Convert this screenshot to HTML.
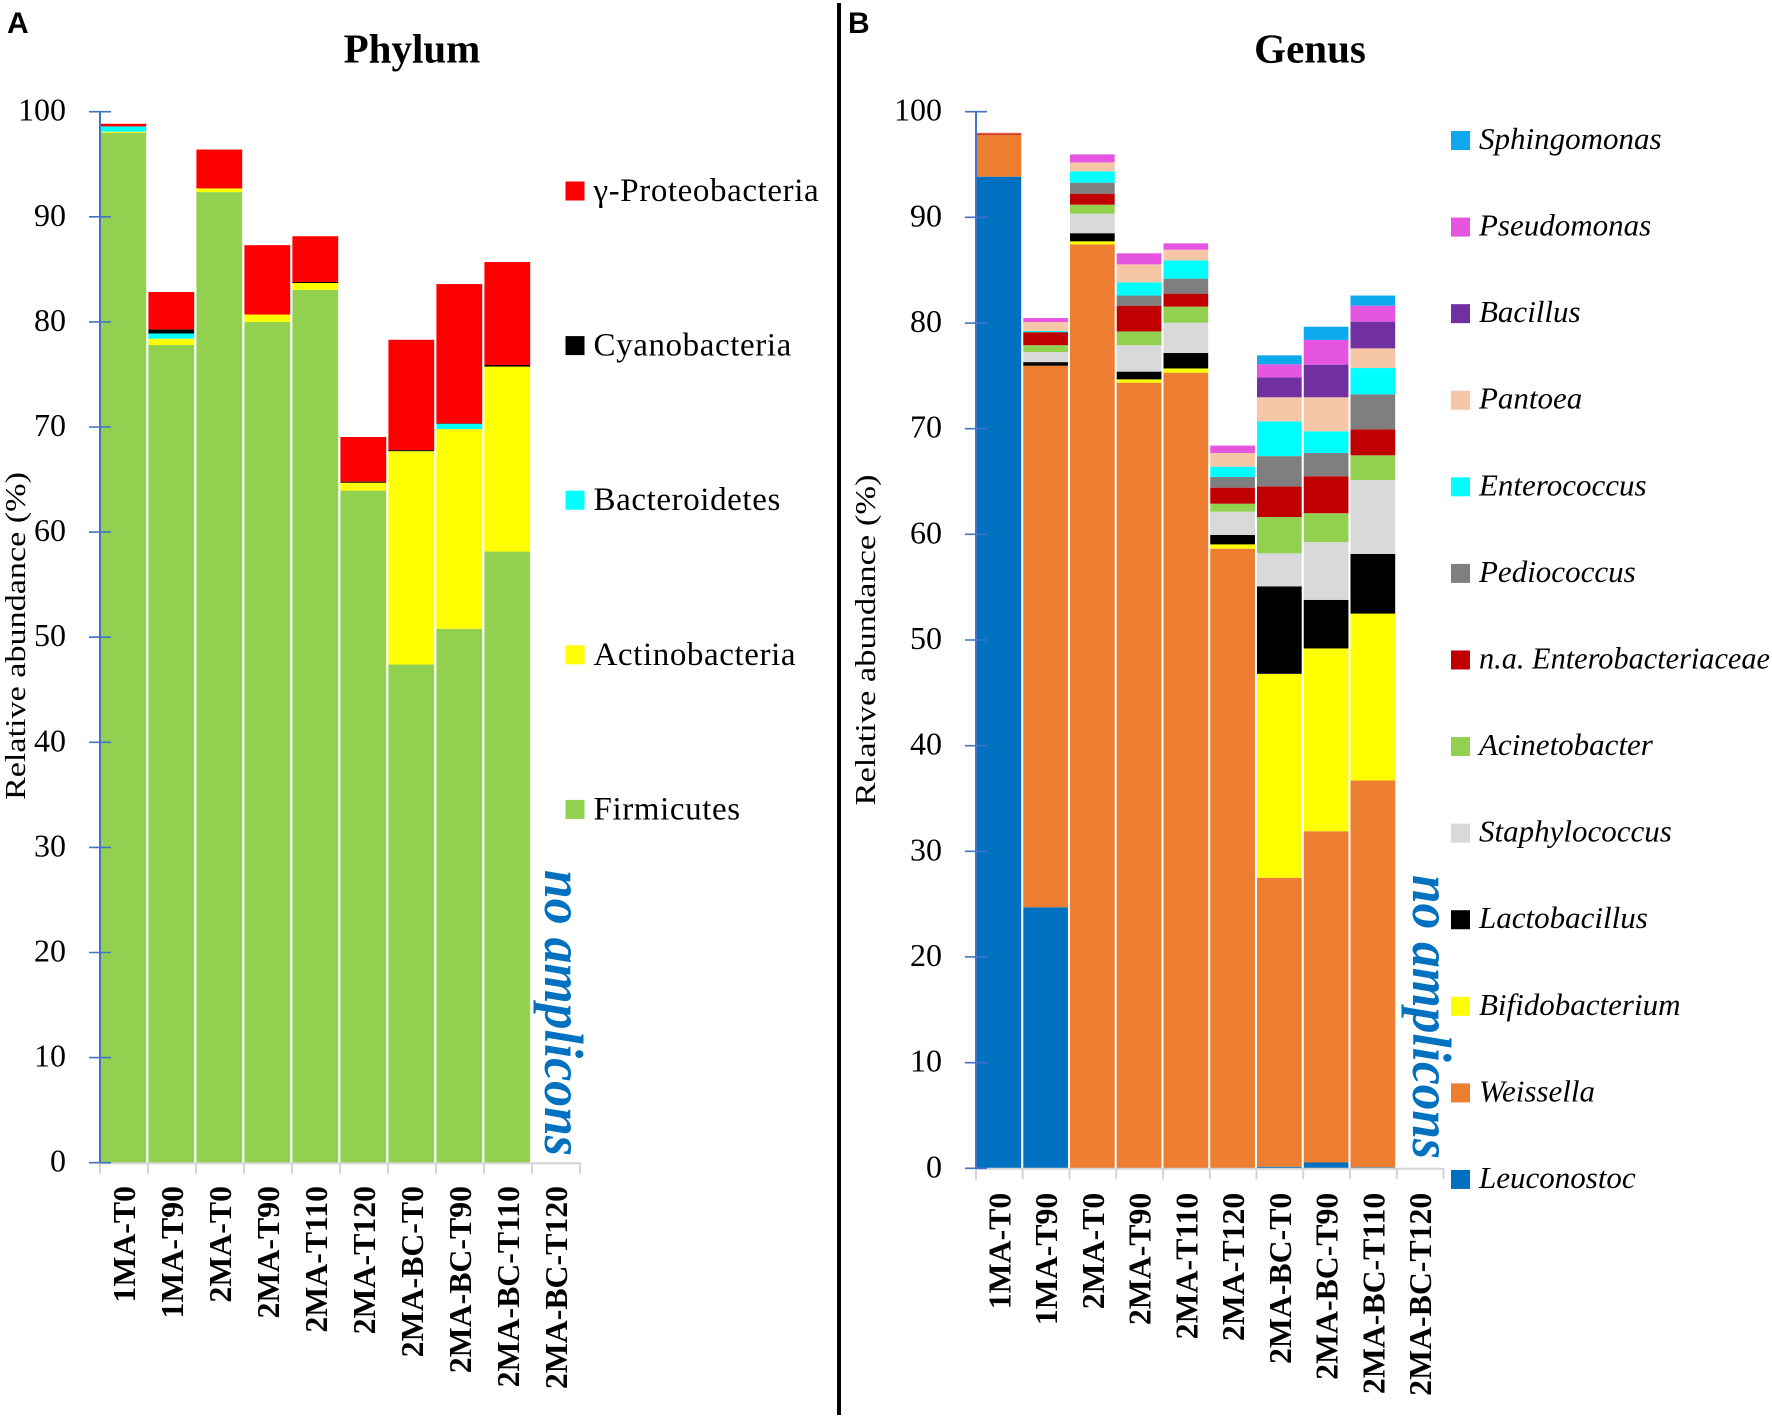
<!DOCTYPE html>
<html lang="en">
<head>
<meta charset="utf-8">
<title>Relative abundance by phylum and genus</title>
<style>
html,body{margin:0;padding:0;background:#fff;}
svg{display:block;}
text{font-family:"Liberation Serif",serif;fill:#000;}
.tick-label{font-size:32px;text-anchor:end;}
.cat-label{font-size:31.8px;font-weight:bold;text-anchor:end;}
.axis-title{font-size:29px;text-anchor:middle;}
.panel-title{font-size:41px;font-weight:bold;text-anchor:middle;}
.panel-letter{font-family:"Liberation Sans",sans-serif;font-size:30px;font-weight:bold;}
.no-amp{font-size:55px;font-weight:bold;font-style:italic;fill:#0070c0;}
.leg-a{font-size:33px;letter-spacing:.6px;}
.leg-b{font-size:31px;font-style:italic;}
</style>
</head>
<body>
<svg id="figure" xmlns="http://www.w3.org/2000/svg" width="1772" height="1421" viewBox="0 0 1772 1421">
  <rect x="0" y="0" width="1772" height="1421" fill="#fff"/>
  <text class="panel-letter" x="7" y="33">A</text>
  <text class="panel-letter" x="848" y="33">B</text>
  <text class="panel-title" x="412" y="62.5">Phylum</text>
  <text class="panel-title" x="1310" y="62.5">Genus</text>
  <rect x="837" y="3" width="4" height="1412" fill="#000"/>
  <text class="axis-title" transform="translate(25,636) rotate(-90)" textLength="328" lengthAdjust="spacingAndGlyphs">Relative abundance (%)</text>
  <text class="axis-title" transform="translate(875,640) rotate(-90)" textLength="331" lengthAdjust="spacingAndGlyphs">Relative abundance (%)</text>
  <text class="no-amp" transform="translate(545,870) rotate(90)" textLength="286" lengthAdjust="spacingAndGlyphs">no amplicons</text>
  <text class="no-amp" transform="translate(1413,875) rotate(90)" textLength="284" lengthAdjust="spacingAndGlyphs">no amplicons</text>
  <g id="panel-a"></g>
  <g id="panel-b"></g>
</svg>
<script>
// Shared axis data
const categories = ["1MA-T0","1MA-T90","2MA-T0","2MA-T90","2MA-T110","2MA-T120","2MA-BC-T0","2MA-BC-T90","2MA-BC-T110","2MA-BC-T120"];
const tickValues = [0,10,20,30,40,50,60,70,80,90,100];

// Phylum series, bottom to top of each stack (percent)
const firmicutes     = [98.0,77.8,92.35,80.0,83.05,63.95,47.4,50.8,58.15,0];
const actinobacteria = [0.1,0.6,0.35,0.7,0.65,0.75,20.3,19.0,17.6,0];
const bacteroidetes  = [0.5,0.5,0,0,0,0,0,0.5,0,0];
const cyanobacteria  = [0,0.4,0,0,0.1,0.1,0.1,0.05,0.15,0];
const proteobacteria = [0.25,3.55,3.7,6.6,4.35,4.25,10.5,13.25,9.8,0];

// Genus series, bottom to top of each stack (percent)
const leuconostoc     = [93.85,24.7,0,0,0,0,0.15,0.55,0.1,0];
const weissella       = [3.97,51.26,87.45,74.35,75.3,58.64,27.35,31.35,36.6,0];
const bifidobacterium = [0,0,0.28,0.32,0.4,0.41,19.3,17.3,15.8,0];
const lactobacillus   = [0,0.34,0.77,0.73,1.46,0.89,8.28,4.6,5.64,0];
const staphylococcus  = [0,0.95,1.85,2.5,2.87,2.21,3.12,5.47,7.0,0];
const acinetobacter   = [0,0.65,0.85,1.3,1.52,0.75,3.44,2.73,2.34,0];
const enterobacteriaceae = [0.12,1.2,1.04,2.44,1.23,1.52,2.9,3.5,2.46,0];
const pediococcus     = [0,0.05,1.04,0.96,1.42,1.01,2.86,2.2,3.31,0];
const enterococcus    = [0,0.1,1.07,1.25,1.73,0.97,3.3,2.05,2.49,0];
const pantoea         = [0.1,0.85,0.85,1.7,1.01,1.3,2.27,3.22,1.86,0];
const bacillus        = [0,0,0,0,0,0,1.89,3.09,2.53,0];
const pseudomonas     = [0,0.37,0.76,1.05,0.6,0.7,1.23,2.34,1.51,0];
const sphingomonas    = [0,0,0,0,0,0,0.85,1.25,0.96,0];

const phylumNames = ["Firmicutes","Actinobacteria","Bacteroidetes","Cyanobacteria","γ-Proteobacteria"];
const phylumValues = [firmicutes,actinobacteria,bacteroidetes,cyanobacteria,proteobacteria];
const genusNames = ["Leuconostoc","Weissella","Bifidobacterium","Lactobacillus","Staphylococcus","Acinetobacter","n.a. Enterobacteriaceae","Pediococcus","Enterococcus","Pantoea","Bacillus","Pseudomonas","Sphingomonas"];
const genusValues = [leuconostoc,weissella,bifidobacterium,lactobacillus,staphylococcus,acinetobacter,enterobacteriaceae,pediococcus,enterococcus,pantoea,bacillus,pseudomonas,sphingomonas];

const phylumColors = ["#92d050","#ffff00","#00ffff","#000000","#ff0000"];
const genusColors = ["#0070c0","#ed7d31","#ffff00","#000000","#d9d9d9","#92d050","#c00000","#7f7f7f","#00ffff","#f6c6a6","#7030a0","#e655e0","#0ea8ee"];

const NS = "http://www.w3.org/2000/svg";
function make(parent, tag, attrs, label) {
  const el = document.createElementNS(NS, tag);
  for (const k in attrs) el.setAttribute(k, attrs[k]);
  if (label !== undefined) el.textContent = label;
  parent.appendChild(el);
  return el;
}
function slug(s) {
  return s.toLowerCase().replace(/[^a-z0-9]+/g, "-").replace(/^-|-$/g, "");
}

function drawPanel(cfg) {
  const root = document.getElementById(cfg.id);
  const yScale = v => cfg.y0 - v * cfg.unit;
  const xBand = i => cfg.x0 + cfg.offset + i * cfg.step;
  const axisBlue = "#4472c4";
  const axisGray = "#d4d4d4";

  // stacked bars
  categories.forEach((cat, i) => {
    let running = 0;
    cfg.values.forEach((series, s) => {
      const v = series[i];
      if (v <= 0) return;
      const rect = make(root, "rect", {
        x: xBand(i), y: yScale(running + v), width: cfg.barWidth,
        height: v * cfg.unit, fill: cfg.colors[s]
      });
      
      
      running += v;
    });
  });

  // x axis
  const xEnd = cfg.x0 + cfg.step * categories.length;
  const xAxis = make(root, "line", { x1: cfg.x0, x2: xEnd, y1: cfg.y0 + 0.5, y2: cfg.y0 + 0.5, stroke: axisGray, "stroke-width": 2 });
  
  
  for (let i = 0; i <= categories.length; i++) {
    const tx = cfg.x0 + i * cfg.step;
    const xTick = make(root, "line", { x1: tx, x2: tx, y1: cfg.y0, y2: cfg.y0 + 11, stroke: axisGray, "stroke-width": 2 });
    
    
  }
  categories.forEach((cat, i) => {
    const cx = cfg.x0 + (i + 0.5) * cfg.step + 11;
    const lab = make(root, "text", { class: "cat-label", transform: "translate(" + cx + "," + cfg.labelTop + ") rotate(-90)" }, cat);
    
    
  });

  // y axis
  const yAxis = make(root, "line", { x1: cfg.x0, x2: cfg.x0, y1: yScale(100), y2: cfg.y0, stroke: axisBlue, "stroke-width": 2 });
  
  
  tickValues.forEach(t => {
    const ty = yScale(t);
    const yTick = make(root, "line", { x1: cfg.x0 - 11, x2: cfg.x0 + 11, y1: ty, y2: ty, stroke: axisBlue, "stroke-width": 1.6 });
    
    
    const yLab = make(root, "text", { class: "tick-label", x: cfg.x0 - 34, y: ty + 9 }, String(t));
    
    
  });

  // legend, listed top to bottom in reverse stack order
  for (let s = cfg.names.length - 1; s >= 0; s--) {
    const row = cfg.names.length - 1 - s;
    const cy = cfg.legendTop + row * cfg.legendStep;
    const swatch = make(root, "rect", { x: cfg.legendX, y: cy - 9.5, width: 19, height: 19, fill: cfg.colors[s] });
    
    
    const text = make(root, "text", { class: cfg.legendClass, x: cfg.legendX + 28, y: cy + cfg.legendBase }, cfg.names[s]);
    
    
    if (text.getComputedTextLength() > cfg.legendMax) {
      text.setAttribute('textLength', cfg.legendMax);
      text.setAttribute('lengthAdjust', 'spacingAndGlyphs');
    }
  }
}

drawPanel({
  id: "panel-a", names: phylumNames, values: phylumValues, colors: phylumColors,
  x0: 100, y0: 1162.7, unit: 10.51, step: 48, offset: 0.4, barWidth: 45.8, labelTop: 1186,
  legendX: 565.5, legendTop: 191, legendStep: 154.6, legendBase: 10, legendClass: "leg-a", legendMax: 230
});
drawPanel({
  id: "panel-b", names: genusNames, values: genusValues, colors: genusColors,
  x0: 976, y0: 1168.3, unit: 10.566, step: 46.75, offset: 0.5, barWidth: 44.7, labelTop: 1192.7,
  legendX: 1451, legendTop: 140.5, legendStep: 86.58, legendBase: 8.5, legendClass: "leg-b", legendMax: 291
});
</script>
</body>
</html>
